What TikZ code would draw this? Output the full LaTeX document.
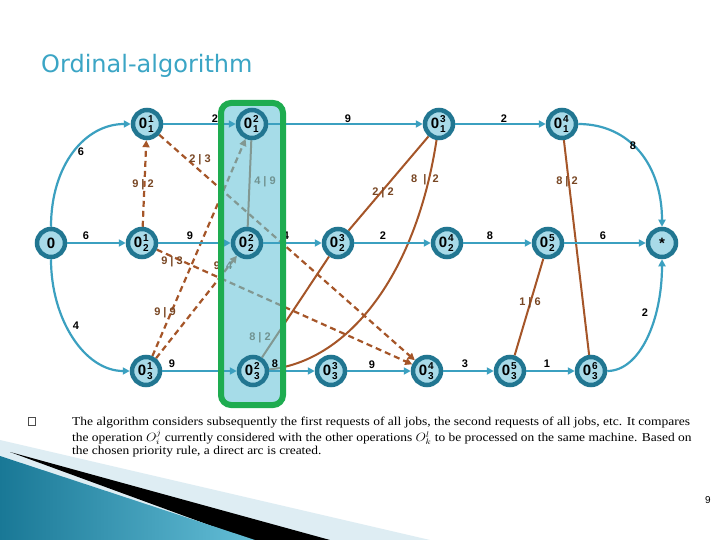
\documentclass[tikz,border=0pt]{standalone}
\usepackage{fontspec}
\setmainfont{Liberation Serif}
\newfontfamily\labfont{Liberation Sans}
\newfontfamily\titlefont{DejaVu Sans}
\usetikzlibrary{arrows.meta}
\pgfdeclarelayer{bglayer}
\pgfdeclarelayer{edgelayer}
\pgfdeclarelayer{ovlayer}
\pgfdeclarelayer{toplayer}
\pgfsetlayers{bglayer,edgelayer,ovlayer,main,toplayer}
\definecolor{jobcol}{RGB}{59,160,192}
\definecolor{ringcol}{RGB}{33,118,145}
\definecolor{nodefill}{RGB}{168,218,232}
\definecolor{brn}{RGB}{165,85,40}
\definecolor{brtxt}{RGB}{120,70,35}
\definecolor{grn}{RGB}{30,172,80}
\definecolor{ovl}{RGB}{107,197,217}
\definecolor{ttl}{RGB}{59,165,197}
\definecolor{swteal}{RGB}{25,120,150}
\definecolor{swlight}{RGB}{100,190,215}
\definecolor{swpale}{RGB}{222,237,243}
\newcommand{\opl}[2]{0\kern0.8pt\rlap{\raisebox{5.5pt}{\fontsize{10}{10}\selectfont #1}}\raisebox{-4pt}{\fontsize{10}{10}\selectfont #2}\kern1.5pt}
\begin{document}
\begin{tikzpicture}[x=1pt,y=-1pt,
 opnode/.style={circle, draw=ringcol, line width=4.5pt, fill=nodefill, minimum size=28pt, inner sep=0pt, font=\labfont\bfseries\fontsize{15}{15}\selectfont},
 jobarc/.style={jobcol, line width=2.2pt, -{Triangle[length=7pt,width=7pt]}},
 macdash/.style={brn, line width=2.2pt, dash pattern=on 6pt off 4pt, -{Triangle[length=7pt,width=7pt]}},
 macsolid/.style={brn, line width=2pt},
 lab/.style={font=\labfont\bfseries\fontsize{11}{11}\selectfont, inner sep=0pt},
 blab/.style={font=\labfont\bfseries\fontsize{11}{11}\selectfont, text=brtxt, inner sep=0pt},
 txt/.style={font=\fontsize{12}{12}\selectfont, anchor=west, inner sep=0pt},
]
\useasboundingbox (0,0) rectangle (720,540);
\begin{pgfonlayer}{bglayer}
\fill[white] (0,0) rectangle (720,540);
\end{pgfonlayer}

% title
\node[font=\titlefont\fontsize{24}{24}\selectfont, text=ttl, anchor=west, inner sep=0pt] (title) at (41,66) {Ordinal-algorithm};

% nodes
\node[opnode] (S) at (51,243) {0};
\node[opnode] (a11) at (147,124) {\opl{1}{1}};
\node[opnode] (a12) at (252,124) {\opl{2}{1}};
\node[opnode] (a13) at (439,124) {\opl{3}{1}};
\node[opnode] (a14) at (562,124) {\opl{4}{1}};
\node[opnode] (a21) at (142,243) {\opl{1}{2}};
\node[opnode] (a22) at (247,243) {\opl{2}{2}};
\node[opnode] (a23) at (338,243) {\opl{3}{2}};
\node[opnode] (a24) at (447,243) {\opl{4}{2}};
\node[opnode] (a25) at (548,243) {\opl{5}{2}};
\node[opnode] (E) at (662,243) {*};
\node[opnode] (a31) at (146,371) {\opl{1}{3}};
\node[opnode] (a32) at (253,371) {\opl{2}{3}};
\node[opnode] (a33) at (331,371) {\opl{3}{3}};
\node[opnode] (a34) at (427,371) {\opl{4}{3}};
\node[opnode] (a35) at (510,371) {\opl{5}{3}};
\node[opnode] (a36) at (591,371) {\opl{6}{3}};

% machine arcs and their labels (under the highlight)
\begin{pgfonlayer}{edgelayer}
\draw[macdash] (a21) -- (a11);
\draw[macdash] (a11) -- (a34);
\draw[macdash] (a21) -- (a34);
\draw[macdash] (a31) -- (a22);
\draw[macdash] (a31) -- (a12);
\draw[macsolid] (a12) -- (a22);
\draw[macsolid] (a13) -- (a23);
\draw[macsolid] (a13) .. controls (415,280) and (345,362) .. (a32);
\draw[macsolid] (a23) -- (a32);
\draw[macsolid] (a14) -- (a36);
\draw[macsolid] (a25) -- (a35);
\node[blab] (m1) at (143,185) {9 | 2};
\node[blab] (m2) at (200,160) {2 | 3};
\node[blab] (m3) at (265,182) {4 | 9};
\node[blab] (m4) at (383,193) {2 | 2};
\node[blab] (m5) at (425,180) {8 \ | \ 2};
\node[blab] (m6) at (567,182) {8 | 2};
\node[blab] (m7) at (530,303) {1 | 6};
\node[blab] (m8) at (165,313) {9 | 9};
\node[blab] (m9) at (172,262) {9 | 3};
\node[blab] (m10) at (223,266) {9 \ 4};
\node[blab] (m11) at (260,338) {8 | 2};
\end{pgfonlayer}

% highlight column
\begin{pgfonlayer}{ovlayer}
\fill[ovl, opacity=0.6, rounded corners=10pt] (221,103) rectangle (283,405);
\end{pgfonlayer}
\begin{pgfonlayer}{toplayer}
\draw[grn, line width=6pt, rounded corners=10pt] (221,103) rectangle (283,405);
\end{pgfonlayer}

% job arcs
\draw[jobarc] (S) .. controls (51,165) and (85,124) .. (a11);
\draw[jobarc] (a11) -- (a12);
\draw[jobarc] (a12) -- (a13);
\draw[jobarc] (a13) -- (a14);
\draw[jobarc] (a14) .. controls (630,124) and (662,165) .. (E);
\draw[jobarc] (S) -- (a21);
\draw[jobarc] (a21) -- (a22);
\draw[jobarc] (a22) -- (a23);
\draw[jobarc] (a23) -- (a24);
\draw[jobarc] (a24) -- (a25);
\draw[jobarc] (a25) -- (E);
\draw[jobarc] (S) .. controls (51,320) and (85,371) .. (a31);
\draw[jobarc] (a31) -- (a32);
\draw[jobarc] (a32) -- (a33);
\draw[jobarc] (a33) -- (a34);
\draw[jobarc] (a34) -- (a35);
\draw[jobarc] (a35) -- (a36);
\draw[jobarc] (a36) .. controls (640,371) and (662,320) .. (E);

% job labels
\node[lab] (j1) at (81,152) {6};
\node[lab] (j2) at (215,119) {2};
\node[lab] (j3) at (348,119) {9};
\node[lab] (j4) at (504,119) {2};
\node[lab] (j5) at (633,146) {8};
\node[lab] (j6) at (86,236) {6};
\node[lab] (j7) at (190,236) {9};
\node[lab] (j8) at (286,236) {4};
\node[lab] (j9) at (383,236) {2};
\node[lab] (j10) at (490,236) {8};
\node[lab] (j11) at (603,236) {6};
\node[lab] (j12) at (76,326) {4};
\node[lab] (j13) at (172,364) {9};
\node[lab] (j14) at (275,364) {8};
\node[lab] (j15) at (372,365) {9};
\node[lab] (j16) at (465,364) {3};
\node[lab] (j17) at (547,364) {1};
\node[lab] (j18) at (645,313) {2};

% bottom decoration
\fill[swpale] (0,440) -- (430,540) -- (0,540) -- cycle;
\fill[black] (10,452) -- (330,540) -- (250,540) -- cycle;
\shade[left color=swteal, right color=swlight] (0,456) -- (255,540) -- (0,540) -- cycle;

% text
\draw[black!70, line width=0.6pt] (28,417) rectangle (35,425);
\node[txt] (t1) at (72,423) {\scalebox{1.125}[1]{The algorithm considers subsequently the first requests of all jobs, the second requests of all jobs, etc. It compares}};
\node[txt] (t2) at (72,437.5) {\scalebox{1.12}[1]{the operation $O_i^j$ currently considered with the other operations $O_k^l$ to be processed on the same machine. Based on}};
\node[txt] (t3) at (72,452) {\scalebox{1.12}[1]{the chosen priority rule, a direct arc is created.}};
\node[font=\labfont\fontsize{10}{10}\selectfont, inner sep=0pt] (pg) at (708,500) {9};
\end{tikzpicture}
\end{document}
